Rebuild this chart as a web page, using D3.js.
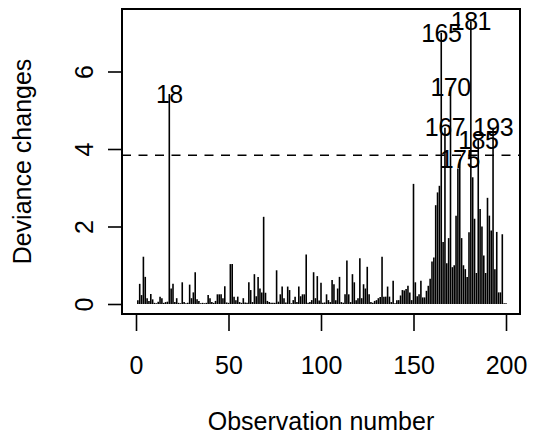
<!DOCTYPE html>
<html>
<head>
<meta charset="utf-8">
<script src="https://cdn.jsdelivr.net/npm/d3@7"></script>
<style>
  html, body { margin: 0; padding: 0; background: #fff; }
  svg { display: block; }
  text { font-family: "Liberation Sans", Arial, Helvetica, sans-serif; fill: #000; }
</style>
</head>
<body>
<script>
// Deviance change for each observation (index 1..200)
const devianceChange = [
  0.10, 0.52, 0.23, 1.22, 0.70, 0.15, 0.08, 0.26, 0.12, 0.03,
  0.02, 0.06, 0.19, 0.15, 0.03, 0.05, 0.06, 5.42, 0.40, 0.52,
  0.05, 0.15, 0.03, 0.02, 0.56, 0.05, 0.02, 0.03, 0.50, 0.15,
  0.30, 0.82, 0.12, 0.08, 0.02, 0.03, 0.02, 0.03, 0.23, 0.15,
  0.05, 0.03, 0.08, 0.25, 0.25, 0.25, 0.15, 0.46, 0.04, 0.03,
  1.03, 1.03, 0.19, 0.10, 0.19, 0.05, 0.03, 0.15, 0.04, 0.03,
  0.56, 0.36, 0.05, 0.77, 0.20, 0.70, 0.40, 0.30, 2.25, 0.29,
  0.08, 0.05, 0.03, 0.03, 0.03, 0.87, 0.06, 0.25, 0.45, 0.15,
  0.04, 0.45, 0.36, 0.02, 0.10, 0.19, 0.05, 0.45, 0.20, 0.25,
  0.25, 1.28, 0.03, 0.05, 0.10, 0.82, 0.15, 0.72, 0.09, 0.55,
  0.03, 0.04, 0.25, 0.10, 0.05, 0.62, 0.51, 0.10, 0.40, 0.70,
  0.05, 0.03, 0.25, 1.12, 0.25, 0.05, 0.77, 0.56, 0.10, 0.15,
  1.18, 0.15, 0.51, 0.40, 0.96, 0.25, 0.05, 0.03, 0.08, 0.10,
  0.15, 0.18, 1.22, 0.19, 0.19, 0.45, 0.19, 0.05, 0.60, 0.02,
  0.10, 0.10, 0.22, 0.36, 0.35, 0.39, 0.47, 0.30, 0.10, 3.10,
  0.56, 0.20, 0.25, 0.60, 0.17, 0.17, 0.34, 0.47, 0.65, 1.10,
  1.20, 2.55, 2.88, 3.05, 7.00, 1.60, 4.55, 1.05, 1.70, 5.60,
  0.95, 1.00, 2.28, 3.50, 3.73, 1.70, 1.00, 0.90, 0.70, 1.85,
  7.30, 3.27, 2.20, 0.80, 4.23, 2.45, 2.00, 1.25, 0.80, 2.74,
  2.28, 1.90, 4.55, 0.90, 1.86, 0.30, 0.30, 1.80, 0.02, 0.02
];

// Observations flagged above the cut-off
const flagged = [18, 165, 167, 170, 175, 181, 185, 193];

// Chi-square(1) 95% cut-off
const cutoff = 3.84;

const xTicks = [0, 50, 100, 150, 200];
const yTicks = [0, 2, 4, 6];

const xTitle = "Observation number";
const yTitle = "Deviance changes";

const W = 536, H = 438;
const box = { left: 122, right: 520, top: 9, bottom: 314 };

const data = devianceChange.map((v, i) => ({ obs: i + 1, value: v }));

const svg = d3.select("body").append("svg")
  .attr("width", W).attr("height", H);

const x = d3.scaleLinear()
  .domain([0, 200])
  .range([136, 506]);
const y = d3.scaleLinear()
  .domain([0, 6])
  .range([304, 71.5]);

const fontSize = 25;

// histogram-style spikes
svg.append("g")
  .selectAll("line")
  .data(data)
  .join("line")
  .attr("x1", d => x(d.obs)).attr("x2", d => x(d.obs))
  .attr("y1", y(0)).attr("y2", d => y(d.value))
  .attr("stroke", "#000")
  .attr("stroke-width", 1.6);

// cut-off line
svg.append("line")
  .attr("x1", box.left).attr("x2", box.right)
  .attr("y1", y(cutoff)).attr("y2", y(cutoff))
  .attr("stroke", "#000")
  .attr("stroke-width", 1.6)
  .attr("stroke-dasharray", "9,7.5");

// labels for flagged observations
svg.append("g")
  .selectAll("text")
  .data(data.filter(d => flagged.includes(d.obs)))
  .join("text")
  .attr("x", d => x(d.obs))
  .attr("y", d => y(d.value))
  .attr("dy", "0.35em")
  .attr("text-anchor", "middle")
  .attr("font-size", fontSize)
  .style("letter-spacing", "-0.5px")
  .text(d => d.obs);

// x axis
const xAxis = d3.axisBottom(x)
  .tickValues(xTicks)
  .tickSize(17)
  .tickFormat(d3.format("d"));
const gx = svg.append("g")
  .attr("transform", `translate(0,${box.bottom})`)
  .call(xAxis);
gx.select(".domain").remove();
gx.selectAll(".tick line").attr("stroke", "#000").attr("stroke-width", 1.6);
gx.selectAll(".tick text")
  .attr("font-size", fontSize)
  .attr("font-family", null)
  .attr("dy", null)
  .attr("dominant-baseline", "middle")
  .attr("y", 53);

// y axis
const yAxis = d3.axisLeft(y)
  .tickValues(yTicks)
  .tickSize(14)
  .tickFormat(d3.format("d"));
const gy = svg.append("g")
  .attr("transform", `translate(${box.left},0)`)
  .call(yAxis);
gy.select(".domain").remove();
gy.selectAll(".tick line").attr("stroke", "#000").attr("stroke-width", 1.6);
gy.selectAll(".tick text")
  .attr("font-size", fontSize)
  .attr("font-family", null)
  .attr("x", null).attr("dy", null)
  .attr("text-anchor", "middle")
  .attr("transform", "translate(-29,0) rotate(-90)");

// plot frame
svg.append("rect")
  .attr("x", box.left).attr("y", box.top)
  .attr("width", box.right - box.left)
  .attr("height", box.bottom - box.top)
  .attr("fill", "none")
  .attr("stroke", "#000")
  .attr("stroke-width", 2);

// axis titles
svg.append("text")
  .attr("x", (box.left + box.right) / 2)
  .attr("y", 430)
  .attr("text-anchor", "middle")
  .attr("font-size", fontSize)
  .text(xTitle);

svg.append("text")
  .attr("transform", `translate(31,${(box.top + box.bottom) / 2}) rotate(-90)`)
  .attr("text-anchor", "middle")
  .attr("font-size", fontSize)
  .text(yTitle);
</script>
</body>
</html>
